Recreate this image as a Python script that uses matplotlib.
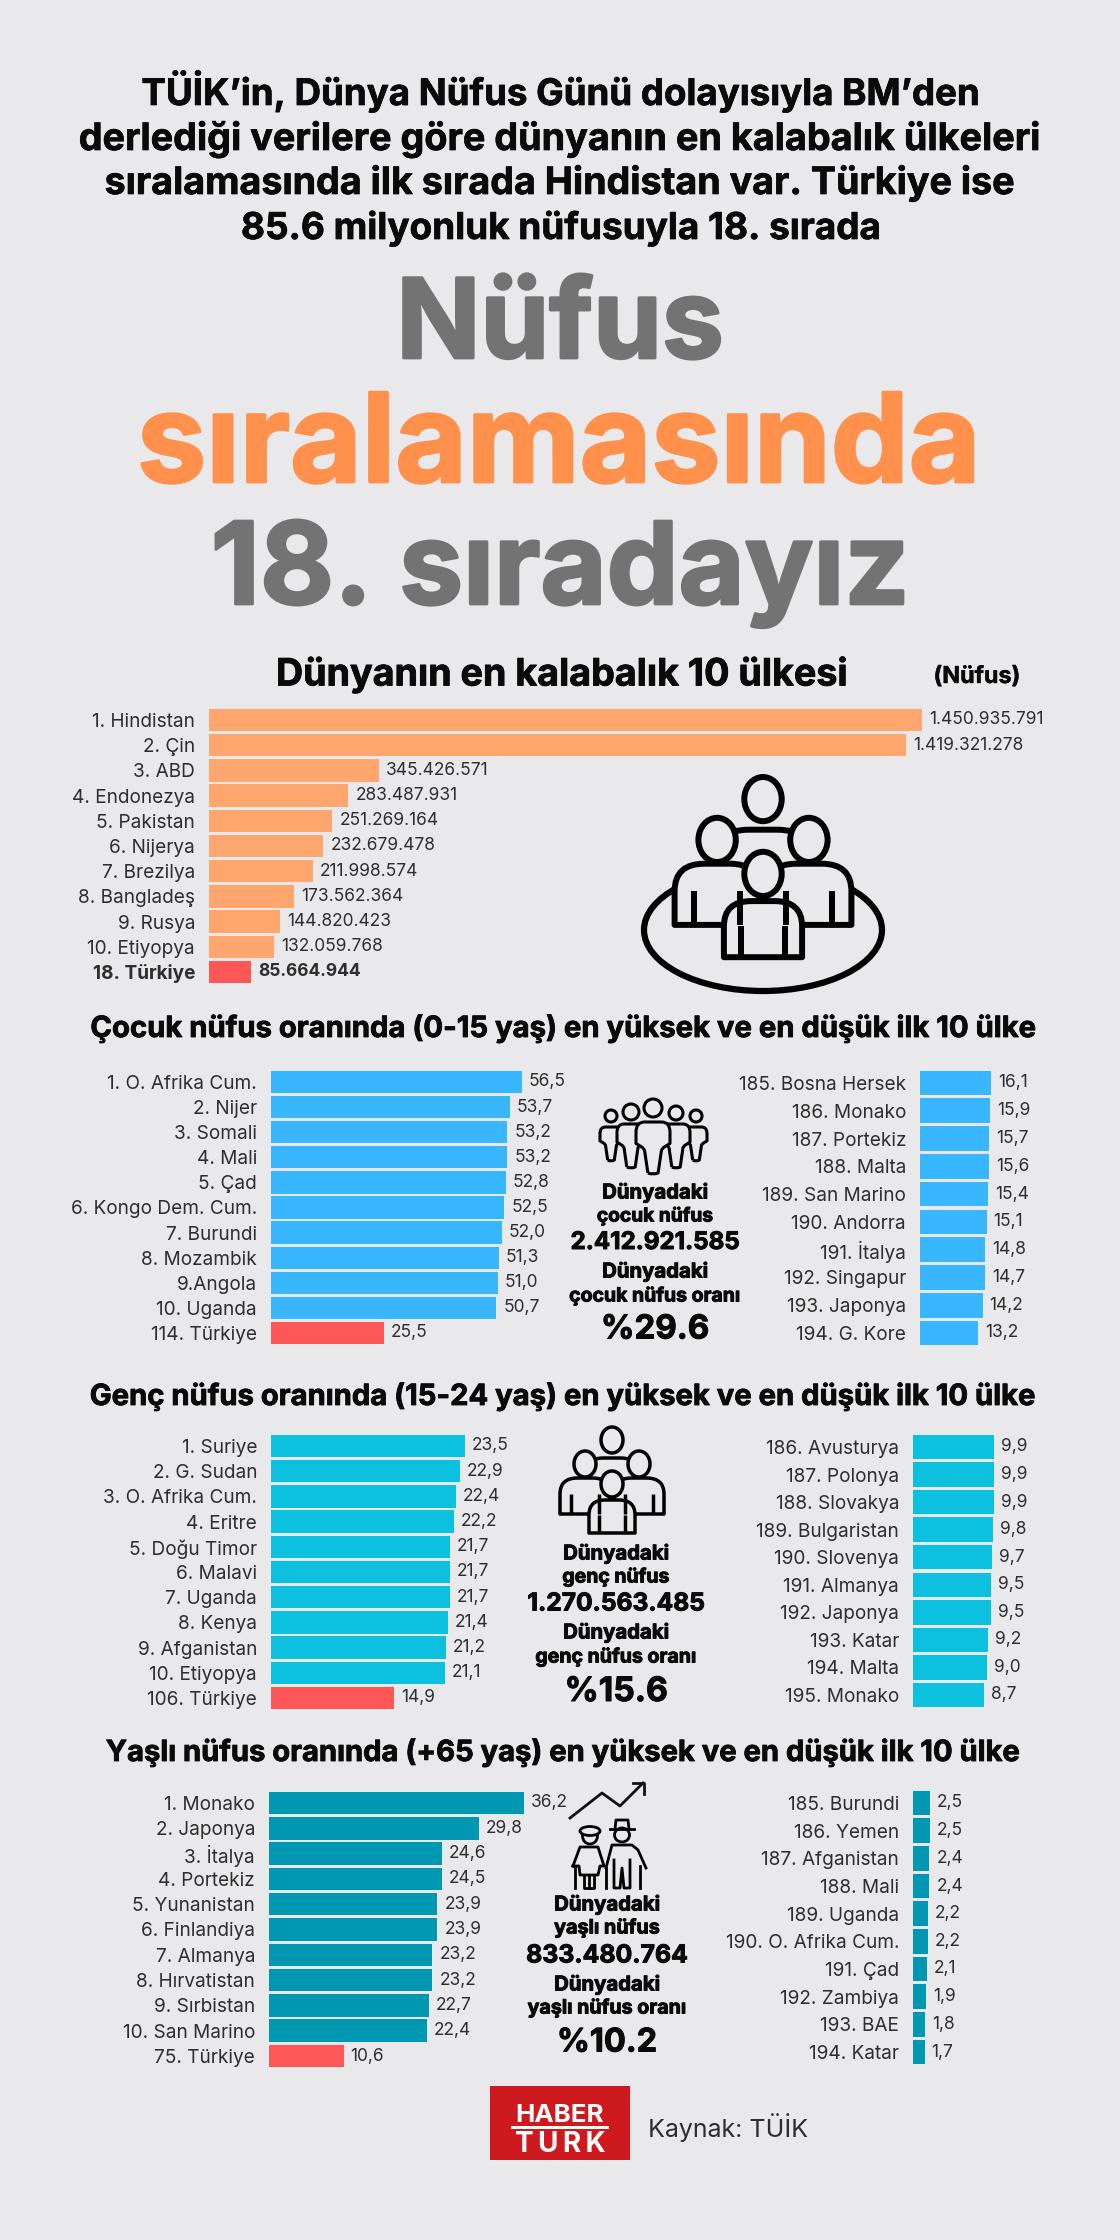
import matplotlib
matplotlib.use("Agg")
import matplotlib.pyplot as plt
import matplotlib.patheffects as pe
from matplotlib.patches import Ellipse, PathPatch, Rectangle
from matplotlib.path import Path

plt.rcParams['font.family'] = ['Inter', 'DejaVu Sans']

BG = '#E9E9EB'
RED = '#FF5757'
INK = '#0A0A0A'
LABEL = '#2E2E2E'

top_labels = ['1. Hindistan', '2. Çin', '3. ABD', '4. Endonezya', '5. Pakistan', '6. Nijerya',
              '7. Brezilya', '8. Bangladeş', '9. Rusya', '10. Etiyopya', '18. Türkiye']
top_values = [1450935791, 1419321278, 345426571, 283487931, 251269164, 232679478,
              211998574, 173562364, 144820423, 132059768, 85664944]

child_hi_labels = ['1. O. Afrika Cum.', '2. Nijer', '3. Somali', '4. Mali', '5. Çad', '6. Kongo Dem. Cum.',
                   '7. Burundi', '8. Mozambik', '9.Angola', '10. Uganda', '114. Türkiye']
child_hi_values = [56.5, 53.7, 53.2, 53.2, 52.8, 52.5, 52.0, 51.3, 51.0, 50.7, 25.5]
child_lo_labels = ['185. Bosna Hersek', '186. Monako', '187. Portekiz', '188. Malta', '189. San Marino',
                   '190. Andorra', '191. İtalya', '192. Singapur', '193. Japonya', '194. G. Kore']
child_lo_values = [16.1, 15.9, 15.7, 15.6, 15.4, 15.1, 14.8, 14.7, 14.2, 13.2]

young_hi_labels = ['1. Suriye', '2. G. Sudan', '3. O. Afrika Cum.', '4. Eritre', '5. Doğu Timor', '6. Malavi',
                   '7. Uganda', '8. Kenya', '9. Afganistan', '10. Etiyopya', '106. Türkiye']
young_hi_values = [23.5, 22.9, 22.4, 22.2, 21.7, 21.7, 21.7, 21.4, 21.2, 21.1, 14.9]
young_lo_labels = ['186. Avusturya', '187. Polonya', '188. Slovakya', '189. Bulgaristan', '190. Slovenya',
                   '191. Almanya', '192. Japonya', '193. Katar', '194. Malta', '195. Monako']
young_lo_values = [9.9, 9.9, 9.9, 9.8, 9.7, 9.5, 9.5, 9.2, 9.0, 8.7]

old_hi_labels = ['1. Monako', '2. Japonya', '3. İtalya', '4. Portekiz', '5. Yunanistan', '6. Finlandiya',
                 '7. Almanya', '8. Hırvatistan', '9. Sırbistan', '10. San Marino', '75. Türkiye']
old_hi_values = [36.2, 29.8, 24.6, 24.5, 23.9, 23.9, 23.2, 23.2, 22.7, 22.4, 10.6]
old_lo_labels = ['185. Burundi', '186. Yemen', '187. Afganistan', '188. Mali', '189. Uganda',
                 '190. O. Afrika Cum.', '191. Çad', '192. Zambiya', '193. BAE', '194. Katar']
old_lo_values = [2.5, 2.5, 2.4, 2.4, 2.2, 2.2, 2.1, 1.9, 1.8, 1.7]

fig = plt.figure(figsize=(11.2, 22.4), dpi=100, facecolor=BG)
W, H = 1120, 2240

# full page layer in pixel coordinates, for headings and icons
page = fig.add_axes([0, 0, 1, 1], zorder=0)
page.set_xlim(0, W)
page.set_ylim(H, 0)
page.axis('off')
renderer = fig.canvas.get_renderer()


def fit_text(x, y, s, width, color=INK, weight='bold', va='center', stroke=0.0):
    t = page.text(x, y, s, color=color, fontweight=weight, ha='center', va=va, fontsize=10)
    t.set_fontsize(10 * width / t.get_window_extent(renderer).width)
    if stroke:
        # the original face is a bit heavier than Inter Bold
        t.set_path_effects([pe.withStroke(linewidth=stroke, foreground=color)])
    return t


def percent(v):
    return f'{v:.1f}'.replace('.', ',')


def dotted(v):
    return f'{v:,}'.replace(',', '.')


def bars(labels, values, x0, x_end, y_first, y_last, color, fmt=percent, fontsize=13.7, highlight=True):
    n = len(values)
    step = (y_last - y_first) / (n - 1)
    ax = fig.add_axes([x0 / W, 1 - (y_last + step / 2) / H, (x_end - x0) / W, step * n / H], zorder=1)
    colors = [color] * n
    if highlight:
        colors[-1] = RED
    rects = ax.barh(range(n), values, height=0.89, color=colors)
    ax.set_xlim(0, max(values))
    ax.set_ylim(n - 0.5, -0.5)
    ax.set_yticks(range(n), labels, fontsize=fontsize, color=LABEL)
    ax.tick_params(axis='y', length=0, pad=10)
    ax.set_xticks([])
    ax.patch.set_alpha(0)
    for s in ax.spines.values():
        s.set_visible(False)
    ax.bar_label(rects, labels=[fmt(v) for v in values], padding=5, fontsize=12.5, color=LABEL)
    return ax


def person(cx, head_y, head_rx, head_ry, body_w, body_top, body_bot, lw, arms=True):
    # rounded shoulders, straight sides
    hw = body_w / 2
    r = (body_bot - body_top) * 0.45
    verts = [(cx - hw, body_bot), (cx - hw, body_top + r), (cx - hw, body_top), (cx - hw * 0.3, body_top),
             (cx + hw * 0.3, body_top), (cx + hw, body_top), (cx + hw, body_top + r), (cx + hw, body_bot),
             (cx - hw, body_bot)]
    codes = [Path.MOVETO, Path.LINETO, Path.CURVE3, Path.CURVE3, Path.LINETO, Path.CURVE3, Path.CURVE3,
             Path.LINETO, Path.CLOSEPOLY]
    page.add_patch(PathPatch(Path(verts, codes), fc=BG, ec='black', lw=lw, joinstyle='round'))
    if arms:
        for sx in (-1, 1):
            page.plot([cx + sx * hw * 0.55] * 2, [body_top + (body_bot - body_top) * 0.45, body_bot],
                      color='black', lw=lw, solid_capstyle='butt')
    page.add_patch(Ellipse((cx, head_y), head_rx * 2, head_ry * 2, fc=BG, ec='black', lw=lw))


def people_group(cx, top, k, lw):
    # measured on the 103 px wide icon of the youth section
    person(cx, top + 13 * k, 11 * k, 13 * k, 56 * k, top + 31 * k, top + 70 * k, lw, arms=False)
    for sx in (-1, 1):
        person(cx + sx * 27 * k, top + 37 * k, 11 * k, 13 * k, 50 * k, top + 51 * k, top + 87 * k, lw)
    person(cx, top + 57 * k, 11 * k, 13 * k, 46 * k, top + 73 * k, top + 106 * k, lw)


def tapered_person(cx, head_y, r, top, bot, hw, lw):
    verts = [(cx - hw * 0.3, bot), (cx - hw * 0.5, top + (bot - top) * 0.55), (cx - hw * 0.62, top + (bot - top) * 0.5),
             (cx - hw, top + (bot - top) * 0.42), (cx - hw, top + (bot - top) * 0.2), (cx - hw, top),
             (cx - hw * 0.5, top), (cx + hw * 0.5, top), (cx + hw, top), (cx + hw, top + (bot - top) * 0.2),
             (cx + hw, top + (bot - top) * 0.42), (cx + hw * 0.62, top + (bot - top) * 0.5),
             (cx + hw * 0.5, top + (bot - top) * 0.55), (cx + hw * 0.3, bot), (cx, bot + 2), (cx - hw * 0.3, bot)]
    codes = [Path.MOVETO, Path.LINETO, Path.LINETO, Path.LINETO, Path.LINETO, Path.CURVE3, Path.CURVE3,
             Path.LINETO, Path.CURVE3, Path.CURVE3, Path.LINETO, Path.LINETO, Path.LINETO, Path.LINETO,
             Path.CURVE3, Path.CURVE3]
    page.add_patch(PathPatch(Path(verts, codes), fc=BG, ec='black', lw=lw, joinstyle='round'))
    page.add_patch(Ellipse((cx, head_y), r * 2, r * 2, fc=BG, ec='black', lw=lw))


def children_icon():
    tapered_person(611, 1116, 6, 1127, 1160, 11, 2.2)
    tapered_person(696, 1116, 6, 1127, 1160, 11, 2.2)
    tapered_person(631, 1112, 8, 1124, 1167, 14, 2.2)
    tapered_person(676, 1113, 7, 1124, 1167, 14, 2.2)
    tapered_person(653, 1108, 9, 1122, 1173, 17, 2.2)


def elderly_icon():
    lw = 2.0
    page.plot([570, 602, 620, 643], [1818, 1793, 1806, 1783], color='#111111', lw=lw)
    page.plot([633, 644, 644], [1783, 1783, 1794], color='#111111', lw=lw)
    # woman
    page.add_patch(Ellipse((590, 1836), 15, 16, fc=BG, ec='black', lw=lw))
    page.add_patch(Ellipse((590, 1831), 20, 9, fc=BG, ec='black', lw=lw))
    page.plot([573, 580, 598, 604, 600, 598, 580, 579, 573], [1866, 1847, 1847, 1866, 1866, 1875, 1875, 1866, 1866],
              color='black', lw=lw)
    page.plot([584, 584, 594, 594], [1875, 1888, 1888, 1875], color='black', lw=lw)
    page.plot([589, 589], [1875, 1888], color='black', lw=lw)
    page.plot([575, 575], [1866, 1888], color='black', lw=lw)
    # man
    page.plot([610, 634], [1829, 1829], color='black', lw=lw)
    page.plot([615, 616, 628, 629], [1829, 1820, 1820, 1829], color='black', lw=lw)
    page.add_patch(Ellipse((622, 1835), 15, 14, fc=BG, ec='black', lw=lw))
    page.plot([606, 612, 632, 638, 646], [1868, 1845, 1845, 1850, 1868], color='black', lw=lw)
    page.plot([614, 614, 620, 622, 624, 630, 630], [1860, 1888, 1888, 1868, 1888, 1888, 1860], color='black', lw=lw)
    page.plot([606, 606], [1868, 1888], color='black', lw=lw)
    page.plot([640, 640], [1866, 1888], color='black', lw=lw)


def stats(cx, ys, lines, widths):
    for y, s, w in zip(ys, lines, widths):
        fit_text(cx, y, s, w, stroke=0.7)


# heading
head_lines = ['TÜİK’in, Dünya Nüfus Günü dolayısıyla BM’den',
              'derlediği verilere göre dünyanın en kalabalık ülkeleri',
              'sıralamasında ilk sırada Hindistan var. Türkiye ise',
              '85.6 milyonluk nüfusuyla 18. sırada']
for y, s, w in zip([105, 150, 194, 239], head_lines, [838, 961, 912, 640]):
    fit_text(560, y, s, w, va='baseline', stroke=0.5)
fit_text(560, 358, 'Nüfus', 328, color='#737373', va='baseline', stroke=2)
fit_text(559, 482, 'sıralamasında', 847, color='#FF914D', va='baseline', stroke=2)
fit_text(560, 604, '18. sıradayız', 702, color='#737373', va='baseline', stroke=2)

# top chart
fit_text(562, 675, 'Dünyanın en kalabalık 10 ülkesi', 571, stroke=0.6)
fit_text(977, 677, '(Nüfus)', 87, stroke=0.3)
ax = bars(top_labels, top_values, 209, 922, 720, 972, '#FFA66E', fmt=dotted)
ax.get_yticklabels()[-1].set_fontweight('bold')
ax.texts[-1].set_fontweight('bold')
page.add_patch(Ellipse((763, 930), 238, 122, fc='none', ec='black', lw=4.5))
people_group(763, 777, 1.7, 4.3)

# children
fit_text(563, 1029, 'Çocuk nüfus oranında (0-15 yaş) en yüksek ve en düşük ilk 10 ülke', 945, stroke=0.6)
bars(child_hi_labels, child_hi_values, 271, 522, 1082, 1333, '#38B6FF')
bars(child_lo_labels, child_lo_values, 920, 991, 1083, 1333, '#38B6FF', highlight=False)
children_icon()
stats(655, [1193, 1216, 1243, 1272, 1296, 1330],
      ['Dünyadaki', 'çocuk nüfus', '2.412.921.585', 'Dünyadaki', 'çocuk nüfus oranı', '%29.6'],
      [106, 116, 169, 106, 171, 108])

# youth
fit_text(563, 1397, 'Genç nüfus oranında (15-24 yaş) en yüksek ve en düşük ilk 10 ülke', 945, stroke=0.6)
bars(young_hi_labels, young_hi_values, 271, 465, 1446, 1698, '#0CC0DF')
bars(young_lo_labels, young_lo_values, 913, 994, 1447, 1695, '#0CC0DF', highlight=False)
people_group(612, 1427, 1.0, 2.5)
stats(616, [1554, 1577, 1604, 1633, 1657, 1692],
      ['Dünyadaki', 'genç nüfus', '1.270.563.485', 'Dünyadaki', 'genç nüfus oranı', '%15.6'],
      [106, 107, 177, 106, 161, 103])

# elderly
fit_text(563, 1753, 'Yaşlı nüfus oranında (+65 yaş) en yüksek ve en düşük ilk 10 ülke', 914, stroke=0.6)
bars(old_hi_labels, old_hi_values, 269, 524, 1803, 2056, '#0097B2')
bars(old_lo_labels, old_lo_values, 913, 930, 1803, 2052, '#0097B2', highlight=False)
elderly_icon()
stats(607, [1905, 1928, 1956, 1985, 2008, 2043],
      ['Dünyadaki', 'yaşlı nüfus', '833.480.764', 'Dünyadaki', 'yaşlı nüfus oranı', '%10.2'],
      [106, 106, 161, 106, 159, 100])

# logo and source
page.add_patch(Rectangle((490, 2086), 140, 74, fc='#CE1A1E', ec='none'))
fit_text(560, 2122, 'HABER', 88, color='white', va='baseline')
page.add_patch(Rectangle((511, 2126), 98, 3, fc='white', ec='none'))
fit_text(560, 2152, 'T\u2009U\u2009R\u2009K', 90, color='white', va='baseline')
fit_text(728, 2128, 'Kaynak: TÜİK', 160, color=LABEL, weight='normal')

fig.savefig('out.png', dpi=100, facecolor=BG)
